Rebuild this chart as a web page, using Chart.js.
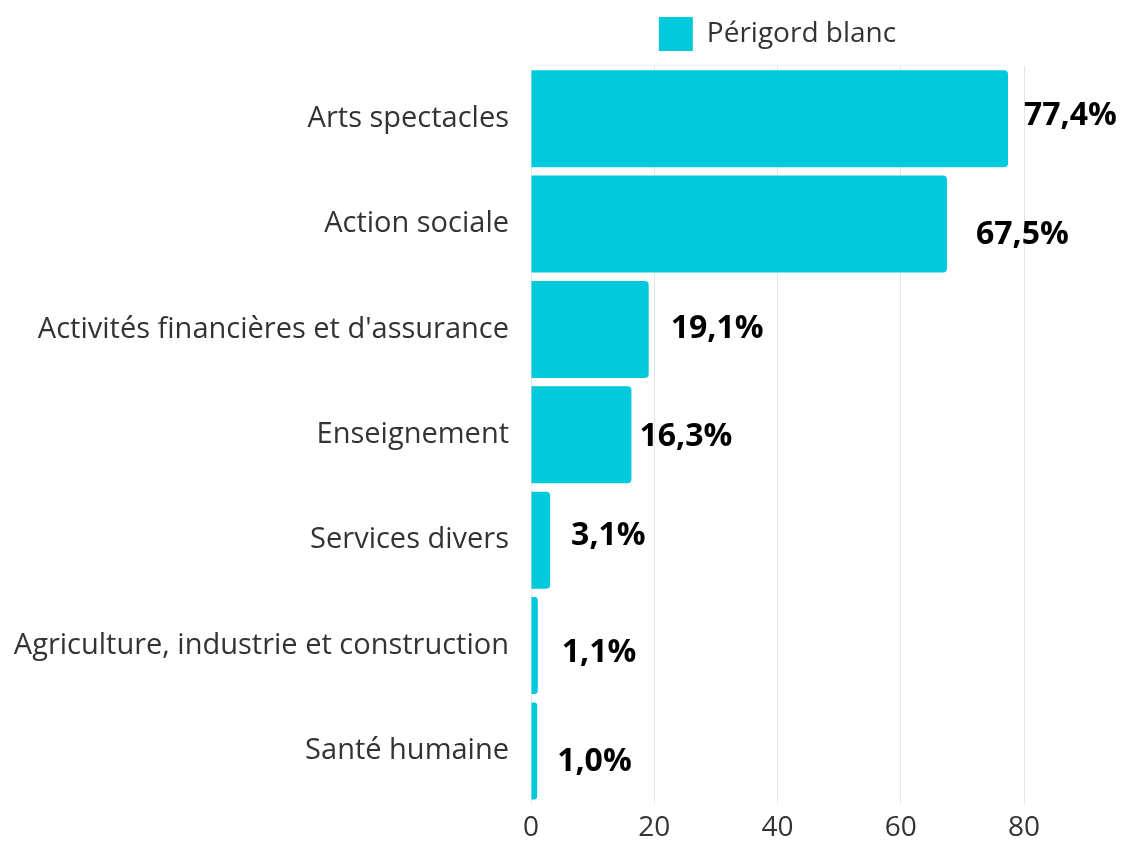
<!DOCTYPE html>
<html>
<head>
<meta charset="utf-8">
<script src="https://cdn.jsdelivr.net/npm/chart.js@4.4.0/dist/chart.umd.min.js"></script>
<style>
  html, body { margin: 0; padding: 0; background: #fff; }
  #wrap { width: 1121px; height: 843px; }
</style>
</head>
<body>
<div id="wrap"><canvas id="myChart"></canvas></div>
<script>
// data
const categories = ['Arts spectacles', 'Action sociale', "Activités financières et d'assurance", 'Enseignement', 'Services divers', 'Agriculture, industrie et construction', 'Santé humaine'];
const values = [77.4, 67.5, 19.1, 16.3, 3.1, 1.1, 1.0];
const seriesName = 'Périgord blanc';
const xTicks = [0, 20, 40, 60, 80];

// small pixel nudges for the value labels, as placed in the original
const labelNudge = [[16, -3], [29, 11], [22, -1], [8, 2], [21, -4], [24, 7], [20, 11]];

// value labels drawn right of each bar
const valueLabels = {
    id: 'valueLabels',
    afterDatasetsDraw(chart) {
        var ctx = chart.ctx;
        var meta = chart.getDatasetMeta(0);
        ctx.save();
        ctx.font = 'bold 32px "Open Sans"';
        ctx.fillStyle = '#000';
        ctx.textAlign = 'left';
        ctx.textBaseline = 'middle';
        meta.data.forEach((bar, i) => {
            var txt = values[i].toFixed(1).replace('.', ',') + '%';
            ctx.fillText(txt, bar.x + labelNudge[i][0], bar.y + labelNudge[i][1]);
        });
        ctx.restore();
    }
};

// a bit more room under the legend
const legendGap = {
    id: 'legendGap',
    beforeInit(chart) {
        const fit = chart.legend.fit;
        chart.legend.fit = function() {
            fit.bind(chart.legend)();
            this.height += 5;
        };
    }
};

let myChart = document.getElementById('myChart').getContext('2d');
var barChart = new Chart(myChart, {
    type: 'bar',
    data: {
        labels: categories,
        datasets: [{
            label: seriesName,
            data: values,
            backgroundColor: '#00c9db',
            borderRadius: 4,
            borderSkipped: 'start',
            categoryPercentage: 0.92,
            barPercentage: 1
        }]
    },
    options: {
        indexAxis: 'y',
        responsive: true,
        maintainAspectRatio: false,
        animation: false,
        layout: { padding: { top: 5, right: 97, left: 0, bottom: 0 } },
        plugins: {
            legend: {
                fullSize: false,
                labels: {
                    boxWidth: 34,
                    boxHeight: 34,
                    color: '#333',
                    font: { family: 'Open Sans', size: 28 },
                    padding: 12
                }
            },
            tooltip: { enabled: false }
        },
        scales: {
            x: {
                min: 0,
                max: 80,
                afterBuildTicks: axis => { axis.ticks = xTicks.map(v => ({ value: v })); },
                afterFit: axis => { axis.height = 38; },
                grid: { color: '#e6e6e6', drawTicks: false },
                border: { display: false },
                ticks: { color: '#333', font: { family: 'Open Sans', size: 28 }, padding: 8 }
            },
            y: {
                afterFit: axis => { axis.width = 531; },
                grid: { display: false, drawTicks: false },
                border: { display: false },
                ticks: { color: '#333', font: { family: 'Open Sans', size: 29 }, padding: 22 }
            }
        }
    },
    plugins: [valueLabels, legendGap]
});
</script>
</body>
</html>
